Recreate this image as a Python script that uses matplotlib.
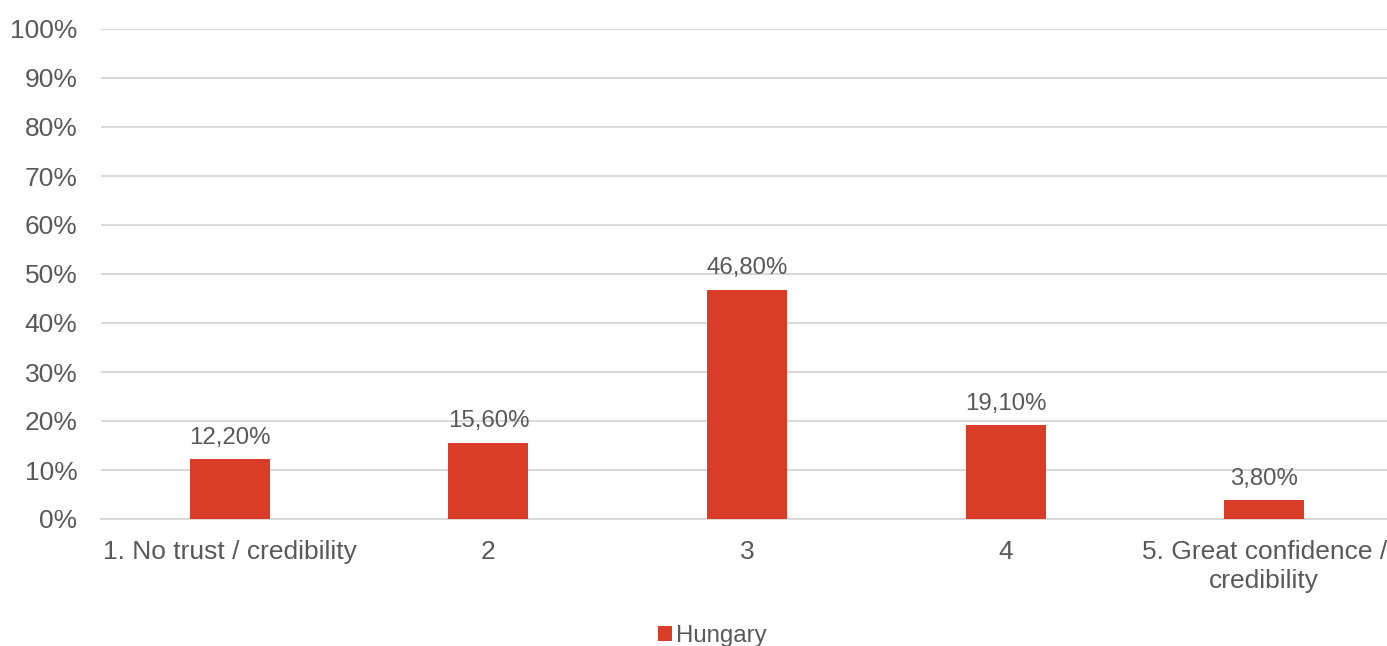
import matplotlib
matplotlib.use("Agg")
import matplotlib.pyplot as plt
from matplotlib.ticker import MultipleLocator, FuncFormatter

categories = ["1. No trust / credibility", "2", "3", "4", "5. Great confidence /\ncredibility"]
values = [12.2, 15.6, 46.8, 19.1, 3.8]
series_name = "Hungary"

bar_color = "#D93D27"
text_color = "#595959"
grid_color = "#D9D9D9"

plt.rcParams["font.family"] = ["Liberation Sans", "DejaVu Sans"]
FS = 19
FS_SMALL = 17.3

fig = plt.figure(figsize=(13.87, 6.46), dpi=100)
ax = fig.add_axes([100.5 / 1387, 1 - 519 / 646, 1293 / 1387, 490 / 646])

x = range(len(categories))
ax.bar(x, values, width=0.31, color=bar_color, label=series_name, zorder=3)

for xi, v in zip(x, values):
    ax.annotate(f"{v:.2f}".replace(".", ",") + "%", (xi, v),
                xytext=(0, 15.5), textcoords="offset points",
                ha="center", va="center", fontsize=FS_SMALL, color=text_color)

ax.set_xlim(-0.5, len(categories) - 0.5)
ax.set_ylim(0, 100)
ax.yaxis.set_major_locator(MultipleLocator(10))
ax.yaxis.set_major_formatter(FuncFormatter(lambda v, _: f"{v:.0f}%"))
ax.set_xticks(list(x))
ax.set_xticklabels(categories, linespacing=1.25)

ax.grid(axis="y", color=grid_color, linewidth=1.5, zorder=0)
for side in ["top", "right", "left"]:
    ax.spines[side].set_visible(False)
ax.spines["bottom"].set_color(grid_color)
ax.spines["bottom"].set_linewidth(1.5)
ax.tick_params(axis="both", length=0, labelsize=FS, labelcolor=text_color)
ax.tick_params(axis="y", pad=16.5)
ax.tick_params(axis="x", pad=15)

leg = fig.legend(loc="center", frameon=False, fontsize=FS_SMALL, handlelength=0.6,
                 handleheight=0.6, handletextpad=0.15, labelcolor=text_color)
leg.set_bbox_to_anchor((712 / 1387, 1 - 636 / 646), transform=fig.transFigure)

fig.savefig("out.png", dpi=100)
